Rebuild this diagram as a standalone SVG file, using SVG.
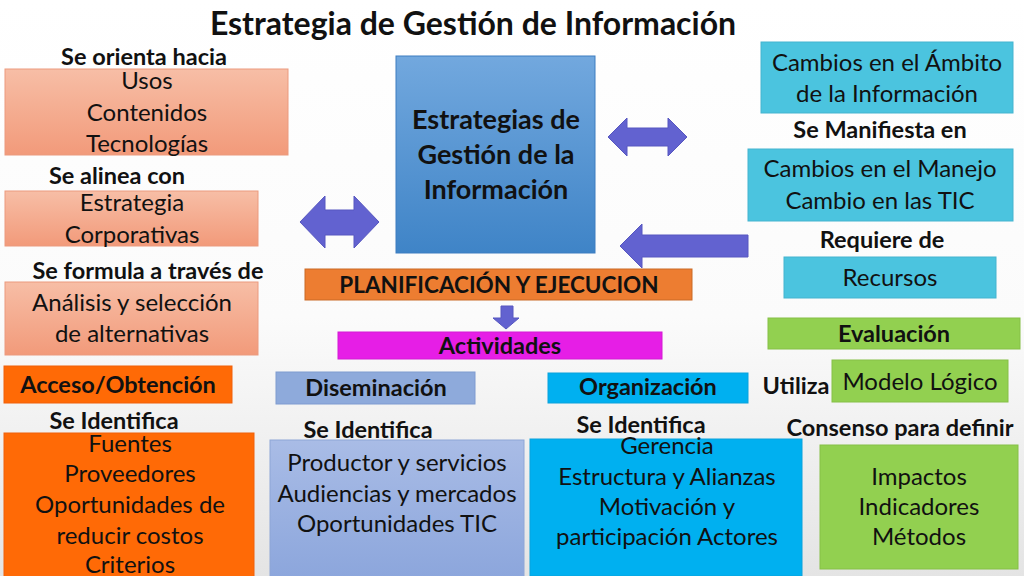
<svg xmlns="http://www.w3.org/2000/svg" width="1024" height="576" viewBox="0 0 1024 576">
<defs>
<linearGradient id="bg" x1="0" y1="0" x2="0" y2="1">
<stop offset="0" stop-color="#ffffff"/><stop offset="0.55" stop-color="#fbfbfb"/><stop offset="1" stop-color="#e4e4e4"/>
</linearGradient>
<linearGradient id="salmon" x1="0" y1="0" x2="0" y2="1">
<stop offset="0" stop-color="#f7bea6"/><stop offset="1" stop-color="#f29a7a"/>
</linearGradient>
<linearGradient id="blue" x1="0" y1="0" x2="0" y2="1">
<stop offset="0" stop-color="#72a8de"/><stop offset="1" stop-color="#3f84c7"/>
</linearGradient>
<linearGradient id="lav" x1="0" y1="0" x2="0" y2="1">
<stop offset="0" stop-color="#a9bce6"/><stop offset="1" stop-color="#8ca6dc"/>
</linearGradient>
<style>
text{font-family:Lato,"Open Sans","Liberation Sans",sans-serif;fill:#111;text-anchor:middle}
.b{font-weight:bold}
.t{font-size:24px}
.l{font-size:23.5px;font-weight:bold}
.c{font-size:22.5px;font-weight:bold}
.sal{fill:url(#salmon);stroke:#eb9a7e;stroke-width:1}
.cy{fill:#4bc4df;stroke:#44b4cf;stroke-width:1}
.gr{fill:#92d050;stroke:#86c046;stroke-width:1}
.or{fill:#ff6a06;stroke:#f0600a;stroke-width:1}
.sb{fill:#00b0f0;stroke:#0aa2dc;stroke-width:1}
.arr{fill:#6262d0;stroke:#5656c0;stroke-width:1}
</style>
</defs>
<rect width="1024" height="576" fill="url(#bg)"/>
<text x="473" y="35" class="b" style="font-size:32px">Estrategia de Gestión de Información</text>

<g id="lbl-orienta"><text x="144" y="65" class="l">Se orienta hacia</text></g>
<g id="n-usos">
<rect x="5" y="69" width="283" height="86" class="sal"/>
<text x="147" y="89" class="t">Usos</text>
<text x="147" y="121" class="t">Contenidos</text>
<text x="147" y="152" class="t">Tecnologías</text>
</g>
<g id="lbl-alinea"><text x="117" y="184" class="l">Se alinea con</text></g>
<g id="n-estrategia">
<rect x="5" y="191" width="253" height="55" class="sal"/>
<text x="132" y="211" class="t">Estrategia</text>
<text x="132" y="243" class="t">Corporativas</text>
</g>
<g id="lbl-formula"><text x="148" y="279" class="l">Se formula a través de</text></g>
<g id="n-analisis">
<rect x="5" y="282" width="253" height="73" class="sal"/>
<text x="132" y="311" class="t">Análisis y selección</text>
<text x="132" y="342" class="t">de alternativas</text>
</g>

<g id="n-central">
<rect x="396" y="56" width="199" height="197" fill="url(#blue)" stroke="#3d7cc0" stroke-width="1"/>
<text x="496" y="129" class="b" style="font-size:27px">Estrategias de</text>
<text x="496" y="164" class="b" style="font-size:27px">Gestión de la</text>
<text x="496" y="199" class="b" style="font-size:27px">Información</text>
</g>

<g id="n-plan">
<rect x="305" y="269" width="387" height="31" fill="#ed7d31" stroke="#c96a26" stroke-width="1"/>
<text x="499" y="293" class="c">PLANIFICACIÓN Y EJECUCION</text>
</g>
<g id="n-actividades">
<rect x="338" y="332" width="324" height="27" fill="#e61ee6" stroke="#d41ad4" stroke-width="1"/>
<text x="500" y="354" class="l">Actividades</text>
</g>

<g id="n-ambito">
<rect x="761" y="42" width="252" height="71" class="cy"/>
<text x="887" y="71" class="t">Cambios en el Ámbito</text>
<text x="887" y="102" class="t">de la Información</text>
</g>
<g id="lbl-manifiesta"><text x="880" y="138" class="l">Se Manifiesta en</text></g>
<g id="n-manejo">
<rect x="748" y="149" width="265" height="72" class="cy"/>
<text x="880" y="177" class="t">Cambios en el Manejo</text>
<text x="880" y="209" class="t">Cambio en las TIC</text>
</g>
<g id="lbl-requiere"><text x="882" y="248" class="l">Requiere de</text></g>
<g id="n-recursos">
<rect x="784" y="257" width="212" height="41" class="cy"/>
<text x="890" y="286" class="t">Recursos</text>
</g>
<g id="n-evaluacion">
<rect x="768" y="318" width="252" height="31" class="gr"/>
<text x="894" y="342" class="l">Evaluación</text>
</g>
<g id="lbl-utiliza"><text x="796" y="394" class="l">Utiliza</text></g>
<g id="n-modelo">
<rect x="832" y="360" width="176" height="42" class="gr"/>
<text x="920" y="390" class="t">Modelo Lógico</text>
</g>
<g id="lbl-consenso"><text x="900" y="436" class="l">Consenso para definir</text></g>
<g id="n-impactos">
<rect x="820" y="445" width="198" height="124" class="gr"/>
<text x="919" y="485" class="t">Impactos</text>
<text x="919" y="515" class="t">Indicadores</text>
<text x="919" y="545" class="t">Métodos</text>
</g>

<g id="n-acceso">
<rect x="4" y="366" width="228" height="37" class="or"/>
<text x="118" y="393" class="l">Acceso/Obtención</text>
</g>
<g id="lbl-ident1"><text x="114" y="429" class="l">Se Identifica</text></g>
<g id="n-fuentes">
<rect x="4" y="433" width="250" height="145" class="or"/>
<text x="130" y="452" class="t">Fuentes</text>
<text x="130" y="482" class="t">Proveedores</text>
<text x="130" y="513" class="t">Oportunidades de</text>
<text x="130" y="544" class="t">reducir costos</text>
<text x="130" y="573" class="t">Criterios</text>
</g>
<g id="n-diseminacion">
<rect x="276" y="372" width="199" height="32" fill="#8eaadb" stroke="#7f9bd0" stroke-width="1"/>
<text x="376" y="396" class="l">Diseminación</text>
</g>
<g id="lbl-ident2"><text x="368" y="438" class="l">Se Identifica</text></g>
<g id="n-productor">
<rect x="270" y="440" width="254" height="138" fill="url(#lav)" stroke="#8ea6d6" stroke-width="1"/>
<text x="397" y="471" class="t">Productor y servicios</text>
<text x="397" y="502" class="t">Audiencias y mercados</text>
<text x="397" y="532" class="t">Oportunidades TIC</text>
</g>
<g id="n-organizacion">
<rect x="548" y="373" width="200" height="30" class="sb"/>
<text x="648" y="395" class="l">Organización</text>
</g>
<g id="lbl-ident3"><text x="641" y="433" class="l">Se Identifica</text></g>
<g id="n-gerencia">
<rect x="530" y="439" width="272" height="137" class="sb"/>
<text x="667" y="454" class="t">Gerencia</text>
<text x="667" y="485" class="t">Estructura y Alianzas</text>
<text x="667" y="515" class="t">Motivación y</text>
<text x="667" y="545" class="t">participación Actores</text>
</g>

<g id="connectors">
<polygon class="arr" points="300,222 325,196 325,210 354,210 354,196 379,222 354,248 354,235 325,235 325,248"/>
<polygon class="arr" points="608,137 627,118 627,128 668,128 668,118 687,137 668,156 668,146 627,146 627,156"/>
<polygon class="arr" points="620,246 642,224 642,235 748,235 748,257 642,257 642,268"/>
<polygon class="arr" points="501,306 513,306 513,318 519,318 506,329 493,318 501,318"/>
</g>
</svg>
